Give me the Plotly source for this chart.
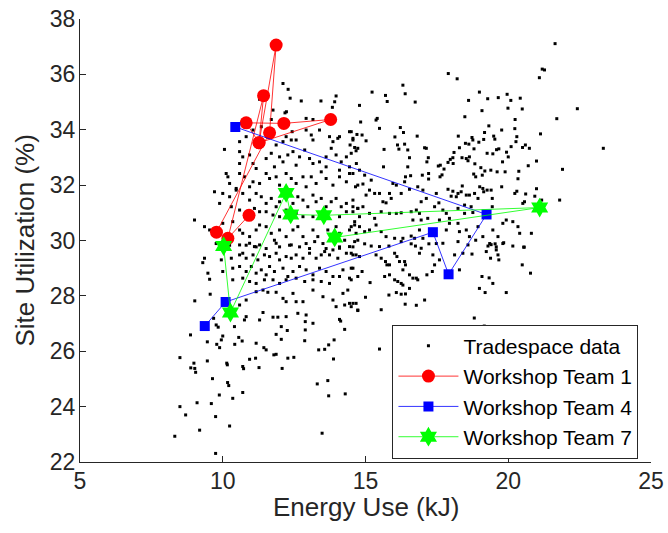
import plotly.graph_objects as go

# ---------------- Data ----------------
# Tradespace cloud, read region by region (energy kJ, site utilization %)
tradespace_north_west = [
    (12.11, 35.67), (12.29, 35.46), (12.36, 35.14), (12.75, 35.04), (13.44, 35.04), (13.97, 35.22),
    (13.92, 35.01), (13.84, 34.81), (12.23, 34.65), (12.18, 34.61), (11.76, 34.71), (11.70, 34.37),
    (12.92, 34.41), (13.16, 34.37), (11.29, 35.10),
    (12.43, 33.93), (12.57, 33.63), (12.92, 33.99), (13.10, 33.81), (13.16, 33.63), (13.39, 33.99),
    (13.74, 33.75), (13.86, 33.57), (14.03, 33.69), (14.09, 33.75), (14.44, 33.93), (14.56, 33.63),
    (14.73, 33.33), (12.40, 33.63), (12.11, 33.57), (11.87, 33.45), (12.22, 33.75), (11.35, 34.11),
    (11.06, 33.99), (10.82, 33.75), (10.59, 33.57),
    (10.06, 33.29), (10.59, 33.21), (10.70, 33.02), (10.94, 33.09), (11.06, 32.78), (11.52, 32.96),
    (11.70, 33.15), (11.99, 33.02), (12.11, 32.84), (12.28, 33.09), (12.46, 33.21), (12.69, 33.02),
    (12.87, 33.27), (13.04, 32.96), (13.16, 32.78), (13.39, 32.84), (13.62, 33.02), (13.80, 33.33),
    (13.97, 33.09), (14.15, 32.84), (14.33, 33.02), (14.50, 33.15), (14.68, 32.78), (10.59, 32.78),
    (11.17, 32.60), (11.81, 32.66), (12.57, 32.72), (13.62, 32.66), (14.09, 32.54),
    (10.12, 32.42), (10.18, 32.30), (10.59, 32.42), (10.76, 32.30), (11.06, 32.12), (11.29, 32.06),
    (11.52, 32.42), (11.64, 32.24), (11.87, 32.30), (11.99, 32.00), (12.22, 32.42), (12.40, 32.24),
    (12.57, 32.06), (12.81, 32.30), (12.92, 31.94), (13.10, 32.30), (13.27, 32.06), (13.45, 32.48),
    (13.62, 32.24), (13.86, 32.00), (14.09, 32.30), (14.33, 32.12), (14.56, 32.42), (14.73, 32.00),
    (10.24, 32.06), (10.47, 31.88), (10.94, 31.94),
    (9.71, 31.76), (10.00, 31.70), (10.24, 31.58), (10.47, 31.82), (10.70, 31.70), (10.94, 31.46),
    (11.17, 31.70), (11.35, 31.58), (11.52, 31.34), (11.70, 31.52), (11.87, 31.22), (11.99, 31.40),
    (12.22, 31.10), (12.46, 31.34), (12.63, 31.58), (12.81, 31.46), (12.98, 31.22), (13.16, 31.64),
    (13.27, 31.40), (13.45, 31.52), (13.62, 31.22), (13.80, 31.40), (13.97, 31.52), (14.15, 31.22),
    (14.33, 31.34), (14.56, 31.46), (14.73, 31.16), (9.89, 31.34), (10.30, 31.22), (10.59, 31.10),
    (11.11, 31.16), (11.29, 31.04), (11.52, 31.04), (11.76, 30.92), (11.99, 30.86), (12.57, 30.98),
    (12.81, 30.86), (13.16, 30.86), (14.09, 30.86), (14.33, 31.04), (14.56, 31.04),
    (9.01, 30.74), (9.36, 30.50), (9.54, 30.38), (10.00, 30.62), (10.35, 30.68), (10.59, 30.38),
    (10.70, 30.26), (10.94, 30.14), (11.17, 30.38), (11.29, 30.56), (11.52, 30.50), (11.70, 30.26),
    (11.81, 30.01), (11.99, 30.38), (12.22, 30.14), (12.46, 30.38), (12.63, 30.50), (12.81, 30.14),
    (12.92, 29.89), (13.16, 30.38), (13.33, 30.14), (13.51, 29.89), (13.68, 30.38), (13.97, 30.50),
    (14.09, 30.26), (14.27, 30.01), (14.44, 30.38), (14.62, 30.56), (14.73, 30.01), (9.77, 29.89),
    (10.24, 29.83), (10.82, 29.83), (11.17, 29.77), (11.52, 29.71), (11.99, 29.77), (12.34, 29.83),
    (12.69, 29.77), (13.04, 29.71), (13.62, 29.71), (14.09, 29.77), (14.56, 29.77),
]

tradespace_north_east = [
    (17.90, 36.03), (18.21, 35.84), (16.31, 35.61), (15.23, 35.36), (16.39, 35.30), (15.70, 35.24),
    (15.76, 35.02), (16.74, 35.00), (14.79, 34.88), (18.99, 35.36), (18.61, 35.06), (19.28, 35.12),
    (19.65, 35.16), (19.96, 35.28), (20.09, 35.06), (20.42, 35.14), (19.99, 34.78), (20.49, 34.75),
    (19.08, 34.69), (18.48, 34.47), (20.24, 34.37), (14.83, 34.28), (15.37, 34.35), (15.41, 34.41),
    (15.49, 34.05), (16.22, 34.08), (16.33, 33.90), (16.81, 33.77), (16.03, 33.74), (14.50, 33.93),
    (14.70, 33.83), (14.88, 33.81), (15.02, 33.60), (14.56, 33.69), (14.46, 33.45), (14.62, 33.36),
    (14.67, 33.24), (15.65, 33.29), (16.12, 33.45), (16.17, 33.30), (16.37, 33.48), (16.48, 33.27),
    (17.07, 33.35), (17.13, 33.33), (16.54, 32.99), (17.20, 32.99), (17.15, 32.84), (15.63, 32.66),
    (16.48, 32.66), (16.99, 32.36), (17.21, 32.42), (17.21, 32.22), (16.40, 32.30), (16.58, 32.34),
    (17.62, 32.72), (17.55, 32.69), (17.68, 32.37), (17.61, 32.30), (17.97, 32.93), (17.89, 32.82),
    (17.75, 32.58), (18.07, 32.78), (18.06, 32.99), (18.10, 33.18), (18.25, 33.77), (18.29, 33.35),
    (18.50, 33.51), (18.62, 33.48), (18.73, 33.72), (18.76, 33.63), (18.80, 33.31), (18.97, 33.55),
    (19.17, 33.90), (19.14, 33.65), (19.32, 34.14), (19.49, 33.77), (19.53, 33.66), (19.77, 33.99),
    (20.23, 34.04), (20.30, 33.75), (20.27, 33.57), (20.10, 33.39), (20.50, 33.36), (20.60, 33.45),
    (20.74, 33.33), (19.94, 33.19), (20.00, 33.02), (19.67, 33.31), (19.59, 33.28), (19.26, 33.15),
    (19.46, 33.13), (19.80, 32.84), (18.38, 32.99), (18.53, 32.96), (18.64, 33.02), (18.59, 32.88),
    (18.83, 32.77), (19.04, 32.63), (18.79, 32.40), (18.86, 32.30), (19.18, 32.51), (19.09, 32.36),
    (19.39, 32.54), (19.61, 32.48), (19.89, 32.48), (20.37, 32.50), (20.70, 32.70), (20.99, 32.87),
    (20.34, 32.23), (19.77, 31.94), (19.00, 31.94), (19.11, 31.88), (19.26, 31.82), (18.39, 31.97),
    (17.89, 31.85), (18.06, 31.78), (18.00, 31.60), (18.24, 31.70), (18.18, 31.58), (18.35, 31.76),
    (18.53, 31.64), (18.64, 31.64), (18.82, 31.70), (18.94, 31.52), (19.14, 31.76), (19.40, 31.82),
    (19.44, 31.52), (19.44, 31.22), (20.23, 31.70), (20.30, 31.78), (20.51, 31.34), (20.57, 31.40),
    (20.61, 31.68), (20.93, 31.60), (20.99, 31.87),
    (14.44, 32.66), (14.44, 32.42), (14.79, 32.54), (14.97, 32.36), (14.91, 32.04), (14.65, 31.94),
    (15.20, 32.18), (15.14, 31.82), (15.02, 31.64), (15.32, 31.70), (15.49, 31.70), (15.61, 31.40),
    (15.72, 31.36), (15.84, 31.70), (16.08, 32.00), (15.96, 32.06), (15.90, 31.52), (16.25, 31.70),
    (16.37, 32.12), (16.54, 31.85), (16.83, 31.94), (17.01, 31.82), (17.13, 31.52), (16.95, 31.40),
    (16.78, 31.10), (17.48, 31.70), (17.57, 31.36), (17.42, 31.22), (17.71, 31.10), (17.83, 30.98),
    (18.24, 31.16), (18.47, 31.28), (18.70, 31.22), (18.76, 31.01), (18.47, 30.98), (17.94, 30.80),
    (17.59, 30.74), (17.18, 30.80), (16.89, 30.98), (16.95, 30.74), (16.66, 30.74), (16.60, 31.04),
    (16.25, 31.00), (16.08, 30.98), (15.84, 30.98), (15.55, 31.04), (15.32, 30.80), (15.14, 30.98),
    (14.91, 31.22), (14.73, 31.16), (14.56, 31.22), (14.79, 30.86), (14.62, 30.68), (14.50, 30.50),
    (14.79, 30.50), (14.67, 30.26), (14.97, 30.32), (15.14, 30.38), (15.37, 30.56), (15.55, 30.32),
    (15.72, 30.14), (16.02, 30.08), (16.31, 30.08), (16.60, 30.16), (16.89, 30.38), (16.72, 30.08),
    (17.01, 30.08), (17.48, 29.89), (17.83, 30.38), (17.94, 30.62), (18.24, 30.62), (18.29, 30.32),
    (18.53, 30.38), (18.94, 30.50), (18.64, 30.14), (18.86, 30.01), (19.11, 30.14), (19.35, 29.89),
    (19.64, 30.14), (19.46, 30.38), (19.81, 30.62), (19.93, 30.74), (20.16, 30.68), (20.34, 30.50),
    (20.40, 30.26), (19.81, 29.89), (20.16, 29.80), (19.58, 29.77), (20.81, 30.26), (20.56, 29.76),
]

tradespace_far_east = [
    (21.64, 37.11), (21.19, 36.19), (21.27, 36.16), (21.09, 35.88), (22.42, 34.76), (21.70, 34.40),
    (21.13, 33.85), (23.33, 33.33), (21.90, 32.57), (21.80, 31.46), (21.17, 31.46),
]

tradespace_south_west = [
    (10.59, 29.84), (10.70, 29.54), (10.94, 29.90), (11.11, 29.78), (11.29, 29.84), (11.87, 29.90),
    (12.40, 29.84), (13.22, 29.96), (13.57, 29.60), (13.86, 29.66), (14.09, 29.72), (14.44, 29.78),
    (14.56, 29.48), (9.36, 29.36), (9.30, 29.20), (9.95, 29.30), (10.30, 29.36), (10.59, 29.48),
    (10.82, 29.36), (11.06, 29.48), (11.23, 29.30), (11.46, 29.48), (11.64, 29.42), (11.87, 29.54),
    (11.99, 29.30), (12.22, 29.42), (12.40, 29.36), (12.57, 29.48), (12.81, 29.36), (13.04, 29.54),
    (13.27, 29.36), (13.45, 29.48), (13.74, 29.48), (14.03, 29.36), (14.33, 29.54),
    (9.48, 28.82), (9.54, 28.60), (10.00, 28.88), (10.35, 29.00), (10.59, 29.06), (10.82, 28.88),
    (11.00, 29.06), (11.17, 28.82), (11.35, 28.94), (11.52, 28.76), (11.64, 29.06), (11.81, 28.88),
    (12.11, 29.00), (12.28, 28.70), (12.46, 28.88), (12.69, 29.06), (12.92, 28.94), (13.16, 28.76),
    (13.39, 29.00), (13.62, 28.88), (13.86, 28.70), (14.21, 28.94), (14.50, 29.00), (10.35, 28.58),
    (10.70, 28.64), (10.94, 28.52), (11.17, 28.45), (11.46, 28.58), (11.76, 28.58), (11.99, 28.45),
    (12.22, 28.58), (12.57, 28.64), (12.87, 28.52), (13.16, 28.58), (13.45, 28.52), (13.74, 28.45),
    (14.09, 28.70), (14.44, 28.64), (14.73, 28.70),
    (9.56, 28.06), (9.02, 27.82), (10.82, 27.85), (11.17, 28.15), (11.41, 28.21), (11.58, 28.13),
    (11.87, 28.13), (12.11, 27.91), (12.22, 27.79), (12.46, 28.09), (12.57, 27.79), (12.81, 27.79),
    (13.16, 28.21), (13.51, 27.97), (13.86, 27.85), (14.21, 28.09), (14.38, 28.21), (13.97, 27.61),
    (14.27, 27.67), (14.56, 27.73), (14.73, 27.49), (10.59, 27.67), (10.82, 27.25), (10.76, 27.13),
    (11.29, 27.13), (11.41, 27.40), (11.76, 27.23), (11.93, 27.23), (12.22, 27.25), (12.63, 27.37),
    (12.92, 27.31), (12.89, 27.07), (12.89, 26.77), (13.16, 27.01), (14.09, 27.15), (14.13, 27.09),
    (14.27, 26.79), (13.90, 26.41), (13.71, 26.23), (13.57, 26.07), (13.36, 26.05), (12.87, 26.38),
    (12.26, 26.75), (12.05, 26.89), (11.87, 26.61), (12.05, 26.43), (11.17, 26.29), (11.44, 26.13),
    (11.52, 26.05), (11.79, 25.87), (11.87, 25.89), (12.28, 25.75), (12.49, 25.78), (12.08, 25.38),
    (10.94, 25.71), (11.15, 25.75), (11.27, 25.41), (10.70, 25.45), (10.73, 25.37), (10.14, 25.57),
    (10.16, 25.51), (10.41, 26.89), (10.56, 26.50), (10.68, 26.37), (10.42, 26.25), (10.00, 26.55),
    (9.95, 26.41), (9.89, 26.13), (9.79, 26.25), (9.77, 26.95), (9.84, 26.87), (9.68, 27.19),
    (9.46, 26.34), (8.87, 26.59), (8.50, 25.77), (8.99, 25.57), (8.88, 25.40), (9.02, 25.38),
    (9.05, 25.24), (9.46, 25.65), (9.64, 25.01), (10.17, 24.87), (10.21, 24.76), (9.88, 24.42),
    (10.35, 24.30), (10.70, 24.51), (9.10, 24.14), (9.60, 24.11), (8.50, 24.00), (8.70, 23.70),
    (9.75, 23.64), (10.24, 23.30), (9.19, 23.15), (8.32, 22.93), (9.75, 22.31), (13.31, 24.82),
    (13.68, 24.94), (13.71, 24.39), (14.29, 24.46), (13.48, 23.04), (13.88, 25.72),
]

tradespace_south_east = [
    (14.62, 29.96), (14.97, 29.88), (15.20, 29.80), (15.49, 29.78), (15.82, 29.80), (16.25, 29.96),
    (16.60, 29.88), (16.75, 29.80), (17.22, 29.88), (17.71, 29.90), (18.24, 29.96), (18.59, 29.84),
    (19.29, 29.80), (19.40, 29.85), (19.54, 29.88), (19.84, 29.92), (20.54, 29.76), (14.50, 29.54),
    (14.67, 29.48), (14.79, 29.42), (15.37, 29.48), (15.55, 29.36), (15.70, 29.24), (15.75, 29.12),
    (15.84, 29.12), (16.02, 29.54), (16.10, 29.42), (16.19, 29.24), (16.37, 29.24), (16.40, 29.12),
    (16.31, 28.94), (16.54, 28.76), (16.66, 28.64), (16.95, 29.72), (16.89, 29.54), (17.36, 29.48),
    (17.42, 29.12), (17.34, 28.88), (17.15, 28.76), (17.59, 29.30), (18.12, 29.48), (18.41, 29.54),
    (18.73, 29.51), (19.23, 29.60), (19.58, 29.66), (19.64, 29.48), (19.67, 29.30), (19.38, 29.36),
    (20.49, 29.12), (20.78, 28.82), (18.29, 28.94), (14.56, 29.00), (14.88, 28.88), (15.16, 28.48),
    (15.67, 28.70), (15.84, 28.76), (16.02, 28.58), (16.13, 28.52), (16.25, 28.45), (16.31, 28.39),
    (16.54, 28.27), (16.78, 28.64), (16.83, 28.58), (16.08, 28.12), (16.25, 28.06), (16.40, 28.07),
    (15.82, 28.03), (15.00, 27.95), (14.50, 28.58), (14.44, 27.73), (14.67, 27.73), (14.73, 27.47),
    (14.50, 27.61), (15.55, 27.50), (16.39, 27.70), (16.78, 27.66), (17.07, 27.85), (19.08, 28.70),
    (19.33, 28.65), (19.46, 28.45), (18.99, 28.27), (19.19, 28.12), (19.93, 28.12), (18.81, 27.20),
    (19.16, 26.91), (17.03, 26.79), (15.49, 26.08),
]

# Workshop team design paths (energy kJ, site utilization %)
team1_energy = [9.78, 11.64, 11.87, 11.27, 13.78, 12.14, 10.82, 11.27, 11.43, 10.18, 10.92]
team1_util = [30.30, 33.89, 37.06, 33.53, 34.37, 34.23, 34.25, 33.53, 35.23, 30.08, 30.91]

team4_energy = [9.37, 10.10, 17.36, 17.91, 19.24, 10.44]
team4_util = [26.91, 27.78, 30.30, 28.78, 30.94, 34.10]

team7_energy = [10.03, 10.27, 12.22, 12.38, 13.54, 21.10, 13.92]
team7_util = [29.80, 27.40, 31.72, 30.94, 30.91, 31.19, 30.11]

x_ticks = [5, 10, 15, 20, 25]
y_ticks = [22, 24, 26, 28, 30, 32, 34, 36, 38]

x_label = "Energy Use (kJ)"
y_label = "Site Utilization (%)"

# ---------------- Figure ----------------
cloud = (tradespace_north_west + tradespace_north_east + tradespace_far_east
         + tradespace_south_west + tradespace_south_east)
cloud_x = [p[0] for p in cloud]
cloud_y = [p[1] for p in cloud]

FONT = "Liberation Sans, Arial, Helvetica, sans-serif"
AX = "#262626"

fig = go.Figure()
fig.add_trace(go.Scatter(
    x=cloud_x, y=cloud_y, mode="markers", name="Tradespace data",
    marker=dict(symbol="square", size=3, color="black", line=dict(width=0)),
))
fig.add_trace(go.Scatter(
    x=team1_energy, y=team1_util, mode="lines+markers", name="Workshop Team 1",
    line=dict(color="#ff0000", width=0.8),
    marker=dict(symbol="circle", size=13, color="#ff0000", line=dict(width=0)),
))
fig.add_trace(go.Scatter(
    x=team4_energy, y=team4_util, mode="lines+markers", name="Workshop Team 4",
    line=dict(color="#0000ff", width=0.8),
    marker=dict(symbol="square", size=10, color="#0000ff", line=dict(width=0)),
))
fig.add_trace(go.Scatter(
    x=team7_energy, y=team7_util, mode="lines+markers", name="Workshop Team 7",
    line=dict(color="#00ff00", width=0.8),
    marker=dict(symbol="hexagram", size=15, color="#00ff00", line=dict(width=0)),
))

fig.update_layout(
    width=668, height=533,
    margin=dict(l=80, r=17, t=19, b=71, pad=0),
    paper_bgcolor="white", plot_bgcolor="white",
    font=dict(family=FONT, color=AX, size=22),
    showlegend=True,
    legend=dict(
        x=0.978, y=0.31, xanchor="right", yanchor="top",
        bgcolor="white", bordercolor=AX, borderwidth=1,
        font=dict(family=FONT, size=21, color="black"),
        itemwidth=60, tracegroupgap=0,
    ),
    annotations=[
        dict(text=x_label, xref="paper", yref="paper", x=0.5, y=0,
             xanchor="center", yanchor="middle", yshift=-45, showarrow=False,
             font=dict(family=FONT, size=26, color=AX)),
        dict(text=y_label, xref="paper", yref="paper", x=0, y=0.5, textangle=-90,
             xanchor="center", yanchor="middle", xshift=-56, showarrow=False,
             font=dict(family=FONT, size=26, color=AX)),
    ],
)
fig.update_xaxes(
    range=[5, 25], tickvals=x_ticks, ticktext=[str(v) for v in x_ticks],
    showgrid=False, zeroline=False, showline=True, linecolor=AX, linewidth=1,
    ticks="inside", ticklen=6, tickcolor=AX, tickwidth=1,
    tickfont=dict(family=FONT, size=23, color=AX), ticklabelstandoff=-2,
    automargin=False,
)
fig.update_yaxes(
    range=[22, 38], tickvals=y_ticks, ticktext=[str(v) for v in y_ticks],
    showgrid=False, zeroline=False, showline=True, linecolor=AX, linewidth=1,
    ticks="inside", ticklen=6, tickcolor=AX, tickwidth=1,
    tickfont=dict(family=FONT, size=23, color=AX), ticklabelstandoff=-1,
    automargin=False,
)

fig.write_html("out.html")
